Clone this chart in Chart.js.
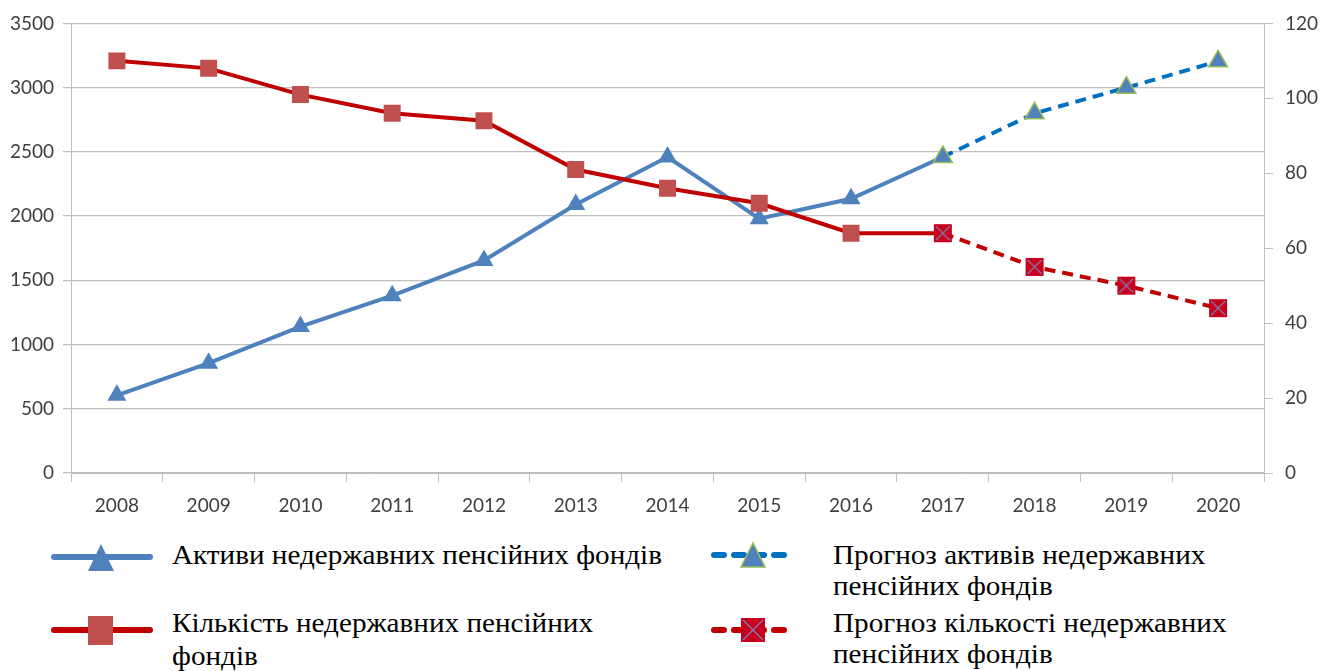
<!DOCTYPE html>
<html>
<head>
<meta charset="utf-8">
<script src="https://cdn.jsdelivr.net/npm/chart.js@4.4.1/dist/chart.umd.min.js"></script>
<style>
  html, body { margin: 0; padding: 0; background: #fff; }
  #wrap { position: relative; width: 1331px; height: 671px; overflow: hidden; }
  #chart-box { position: absolute; left: 0; top: 0; width: 1331px; height: 530px; }
  .leg-text {
    position: absolute; font-family: "Liberation Serif", "Times New Roman", serif;
    font-size: 27px; line-height: 33px; color: #000; white-space: nowrap;
    transform: scaleX(1.08); transform-origin: left top;
  }
  .leg-text.r { line-height: 31px; }
  .leg-icon { position: absolute; }
</style>
</head>
<body>
<div id="wrap">
  <div id="chart-box"><canvas id="pension-chart"></canvas></div>

  <svg class="leg-icon" style="left:48px;top:538px" width="110" height="40">
    <line x1="6" y1="19" x2="102" y2="19" stroke="#4F81BD" stroke-width="6" stroke-linecap="round"/>
    <polygon points="53,6 40,33 66,33" fill="#4F81BD"/>
  </svg>
  <div class="leg-text" style="left:172px;top:539px">Активи недержавних пенсійних фондів</div>

  <svg class="leg-icon" style="left:48px;top:610px" width="110" height="40">
    <line x1="6" y1="20" x2="102" y2="20" stroke="#C00000" stroke-width="6" stroke-linecap="round"/>
    <rect x="40" y="6" width="25" height="29" fill="#C0504D"/>
  </svg>
  <div class="leg-text" style="left:172px;top:607px">Кількість недержавних пенсійних<br>фондів</div>

  <svg class="leg-icon" style="left:708px;top:536px" width="90" height="40">
    <line x1="6" y1="19" x2="84" y2="19" stroke="#0070C0" stroke-width="6" stroke-linecap="round" stroke-dasharray="10 10"/>
    <polygon points="45,7 33,31 57,31" fill="#4F81BD" stroke="#9BBB59" stroke-width="1.5"/>
  </svg>
  <div class="leg-text r" style="left:833px;top:540px">Прогноз активів недержавних<br>пенсійних фондів</div>

  <svg class="leg-icon" style="left:708px;top:610px" width="90" height="40">
    <line x1="6" y1="20" x2="84" y2="20" stroke="#C00000" stroke-width="6" stroke-linecap="round" stroke-dasharray="10 10"/>
    <rect x="33" y="8" width="24" height="24" fill="#C8001E"/>
    <line x1="35" y1="10" x2="55" y2="30" stroke="#8080B0" stroke-width="1.2"/>
    <line x1="55" y1="10" x2="35" y2="30" stroke="#8080B0" stroke-width="1.2"/>
  </svg>
  <div class="leg-text r" style="left:833px;top:608px">Прогноз кількості недержавних<br>пенсійних фондів</div>
</div>

<script>
// роки
const years = ['2008', '2009', '2010', '2011', '2012', '2013', '2014', '2015', '2016', '2017', '2018', '2019', '2020'];

// активи НПФ, млн грн (ліва вісь)
const assets = [605, 855, 1140, 1380, 1655, 2090, 2460, 1980, 2135, 2460, null, null, null];
const assetsForecast = [null, null, null, null, null, null, null, null, null, 2460, 2800, 3000, 3205];

// кількість НПФ (права вісь)
const fundsCount = [110, 108, 101, 96, 94, 81, 76, 72, 64, 64, null, null, null];
const fundsForecast = [null, null, null, null, null, null, null, null, null, 64, 55, 50, 44];

// підписи осей
const leftTicks = [0, 500, 1000, 1500, 2000, 2500, 3000, 3500];
const rightTicks = [0, 20, 40, 60, 80, 100, 120];

// маркер прогнозу кількості: квадрат з хрестиком
const crossSquare = document.createElement('canvas');
crossSquare.width = 20;
crossSquare.height = 20;
(function() {
  const c = crossSquare.getContext('2d');
  c.fillStyle = '#C8001E';
  c.fillRect(1, 1, 18, 18);
  c.strokeStyle = '#8080B0';
  c.lineWidth = 1.2;
  c.beginPath();
  c.moveTo(3, 3); c.lineTo(17, 17);
  c.moveTo(17, 3); c.lineTo(3, 17);
  c.stroke();
})();

const tickFont = { family: 'Lato, "Open Sans", sans-serif', size: 19 };
const tickColor = '#404040';
const gridColor = '#BFBFBF';

new Chart(document.getElementById('pension-chart'), {
  type: 'line',
  data: {
    labels: years,
    datasets: [
      {
        label: 'Активи недержавних пенсійних фондів',
        data: assets,
        yAxisID: 'y',
        borderColor: '#4F81BD',
        borderWidth: 4,
        pointStyle: 'triangle',
        pointRadius: 11,
        pointBackgroundColor: '#4F81BD',
        pointBorderWidth: 0,
        order: 4
      },
      {
        label: 'Кількість недержавних пенсійних фондів',
        data: fundsCount,
        yAxisID: 'y1',
        borderColor: '#C00000',
        borderWidth: 4,
        pointStyle: 'rect',
        pointRadius: 12,
        pointBackgroundColor: '#C0504D',
        pointBorderWidth: 0,
        order: 3
      },
      {
        label: 'Прогноз активів недержавних пенсійних фондів',
        data: assetsForecast,
        yAxisID: 'y',
        borderColor: '#0070C0',
        borderWidth: 4,
        borderDash: [11, 7],
        pointStyle: 'triangle',
        pointRadius: 11,
        pointBackgroundColor: '#4F81BD',
        pointBorderColor: '#9BBB59',
        pointBorderWidth: 1.5,
        order: 2
      },
      {
        label: 'Прогноз кількості недержавних пенсійних фондів',
        data: fundsForecast,
        yAxisID: 'y1',
        borderColor: '#C00000',
        borderWidth: 4,
        borderDash: [11, 7],
        pointStyle: crossSquare,
        pointRadius: 10,
        order: 1
      }
    ]
  },
  options: {
    responsive: true,
    maintainAspectRatio: false,
    animation: false,
    layout: { padding: { top: 12, left: 0, right: 0, bottom: 0 } },
    plugins: {
      legend: { display: false },
      tooltip: { enabled: false }
    },
    scales: {
      x: {
        offset: true,
        grid: { offset: true, drawOnChartArea: false, drawTicks: true, tickLength: 9, color: gridColor },
        border: { display: true, color: gridColor },
        ticks: { font: tickFont, color: tickColor, padding: 12 },
        afterFit: scale => { scale.height = 57; }
      },
      y: {
        position: 'left',
        min: 0,
        max: 3500,
        afterBuildTicks: scale => { scale.ticks = leftTicks.map(v => ({ value: v })); },
        grid: { color: gridColor, lineWidth: 1.3, tickLength: 8 },
        border: { display: true, color: gridColor },
        ticks: { font: tickFont, color: tickColor, padding: 9, callback: v => String(v) },
        afterFit: scale => { scale.width = 71; }
      },
      y1: {
        position: 'right',
        min: 0,
        max: 120,
        afterBuildTicks: scale => { scale.ticks = rightTicks.map(v => ({ value: v })); },
        grid: { drawOnChartArea: false, color: gridColor, tickLength: 9 },
        border: { display: true, color: gridColor },
        ticks: { font: tickFont, color: tickColor, padding: 12, callback: v => String(v) },
        afterFit: scale => { scale.width = 67; }
      }
    }
  }
});
</script>
</body>
</html>
